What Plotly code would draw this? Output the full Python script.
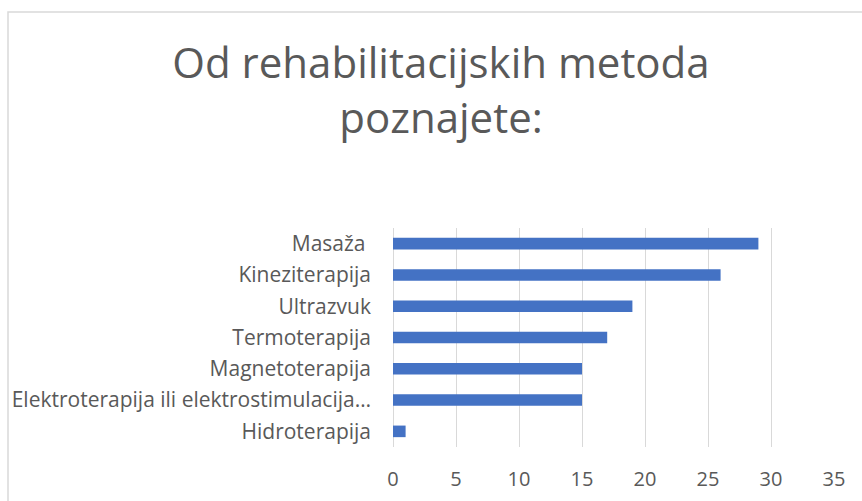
import plotly.graph_objects as go

categories = ["Masaža ", "Kineziterapija", "Ultrazvuk", "Termoterapija", "Magnetoterapija",
              "Elektroterapija ili elektrostimulacija…", "Hidroterapija"]
values = [29, 26, 19, 17, 15, 15, 1]
x_ticks = [0, 5, 10, 15, 20, 25, 30, 35]
title_text = "Od rehabilitacijskih metoda<br>poznajete:"

W, H = 862, 501
ML, MR, MT, MB = 393, 28, 228, 54
pw = W - ML - MR
ph = H - MT - MB

fig = go.Figure(go.Bar(
    x=values, y=categories, orientation="h",
    marker=dict(color="#4472C4", line=dict(width=0)),
))

font_family = "Open Sans"
fig.update_layout(
    width=W, height=H,
    margin=dict(l=ML, r=MR, t=MT, b=MB, autoexpand=False),
    paper_bgcolor="white", plot_bgcolor="white",
    bargap=0.63,
    showlegend=False,
    font=dict(family=font_family, color="#595959"),
    title=dict(text=title_text, x=441 / W, xref="container", xanchor="center",
               y=1 - 78 / H, yref="container", yanchor="top",
               font=dict(size=42, color="#595959", family=font_family)),
    xaxis=dict(range=[0, 35], tickvals=x_ticks, showgrid=True, gridcolor="#d9d9d9", gridwidth=1,
               zeroline=True, zerolinecolor="#d9d9d9", zerolinewidth=1, automargin=False,
               showline=False, ticks="", tickfont=dict(size=20, color="#595959"),
               ticklabelstandoff=18),
    yaxis=dict(categoryorder="array", categoryarray=categories, autorange="reversed",
               showgrid=False, showline=False, ticks="", automargin=False,
               tickfont=dict(size=21, color="#595959"),
               ticklabelstandoff=21),
    shapes=[dict(type="rect", xref="paper", yref="paper",
                 x0=(8 - ML) / pw, x1=(W + 20 - ML) / pw,
                 y0=-(H + 20 - (MT + ph)) / ph, y1=(MT + ph - 12) / ph,
                 line=dict(color="#d9d9d9", width=1.5), fillcolor="rgba(0,0,0,0)", layer="below")],
)

fig.write_html("out.html", config={"displayModeBar": False},
               post_script="document.body.style.margin='0';document.body.style.overflow='hidden';")
